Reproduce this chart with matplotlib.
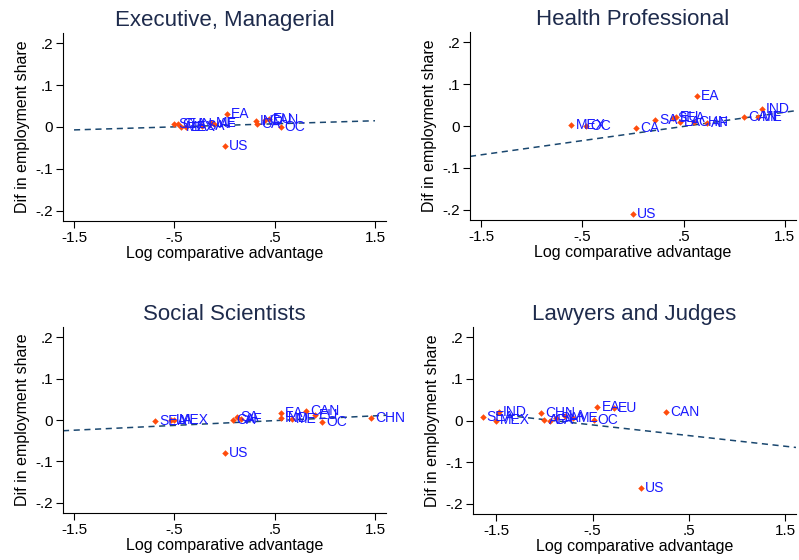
import numpy as np
import matplotlib.pyplot as plt

plt.rcParams['font.family'] = ['Liberation Sans', 'DejaVu Sans']

# Datos: (region, ventaja comparativa log, dif. participacion)
titles = ['Executive, Managerial', 'Health Professional',
          'Social Scientists', 'Lawyers and Judges']

exec_lab = ['SEA', 'CHN', 'MEX', 'LA', 'SA', 'ME', 'AF', 'EA', 'US',
            'IND', 'CA', 'CAN', 'EU', 'OC']
exec_x = [-0.50, -0.46, -0.43, -0.38, -0.22, -0.13, -0.10, 0.02, 0.00,
          0.31, 0.32, 0.40, 0.44, 0.56]
exec_y = [0.006, 0.006, 0.000, 0.000, 0.003, 0.010, 0.006, 0.031, -0.045,
          0.015, 0.007, 0.016, 0.018, 0.000]

health_lab = ['MEX', 'OC', 'CA', 'SA', 'SEA', 'EU', 'LA', 'CHN', 'AF',
              'EA', 'US', 'CAN', 'ME', 'IND']
health_x = [-0.61, -0.46, 0.03, 0.22, 0.40, 0.42, 0.46, 0.60, 0.73,
            0.63, 0.00, 1.10, 1.23, 1.27]
health_y = [0.002, 0.000, -0.004, 0.014, 0.018, 0.022, 0.010, 0.010, 0.007,
            0.072, -0.210, 0.022, 0.022, 0.040]

soc_lab = ['SEA', 'LA', 'MEX', 'CA', 'SA', 'AF', 'EA', 'IND', 'ME',
           'CAN', 'EU', 'OC', 'CHN', 'US']
soc_x = [-0.69, -0.53, -0.50, 0.08, 0.12, 0.16, 0.56, 0.56, 0.67,
         0.81, 0.90, 0.97, 1.46, 0.00]
soc_y = [-0.002, 0.000, 0.000, 0.000, 0.007, 0.003, 0.017, 0.005, 0.002,
         0.021, 0.012, -0.005, 0.005, -0.080]

law_lab = ['SEA', 'IND', 'MEX', 'CHN', 'AF', 'CA', 'SA', 'LA', 'ME',
           'OC', 'EA', 'EU', 'CAN', 'US']
law_x = [-1.64, -1.47, -1.50, -1.03, -1.00, -0.94, -0.88, -0.79, -0.70,
         -0.49, -0.45, -0.28, 0.26, 0.00]
law_y = [0.009, 0.021, 0.000, 0.018, 0.002, 0.000, 0.005, 0.010, 0.006,
         0.001, 0.032, 0.029, 0.020, -0.163]

# Recta ajustada (intercepto, pendiente, rango x)
fit_b0 = [0.004, -0.018, -0.0073, -0.0235]
fit_b1 = [0.0073, 0.034, 0.0116, -0.0257]
fit_x0 = [-1.5, -1.61, -1.61, -1.5]
fit_x1 = [1.5, 1.61, 1.61, 1.61]

xlims = [(-1.61, 1.61), (-1.61, 1.61), (-1.61, 1.61), (-1.74, 1.61)]

xticks = [-1.5, -0.5, 0.5, 1.5]
xtick_lab = ['-1.5', '-.5', '.5', '1.5']
yticks = [-0.2, -0.1, 0, 0.1, 0.2]
ytick_lab = ['-.2', '-.1', '0', '.1', '.2']

W, H = 799, 560
# posiciones de los ejes en pixeles: izq, der, arriba, abajo
boxes = [(63, 386, 33, 221), (470, 796, 32, 220),
         (63, 386, 327, 513), (473, 796, 327, 514)]

data = [(exec_lab, exec_x, exec_y), (health_lab, health_x, health_y),
        (soc_lab, soc_x, soc_y), (law_lab, law_x, law_y)]

fig = plt.figure(figsize=(W / 100, H / 100), dpi=100)
title_col = '#1e2b4c'
for i in range(4):
    l, r, t, b = boxes[i]
    ax = fig.add_axes([l / W, 1 - b / H, (r - l) / W, (b - t) / H])
    labs, xs, ys = data[i]
    xx = np.array([fit_x0[i], fit_x1[i]])
    ax.plot(xx, fit_b0[i] + fit_b1[i] * xx, color='#1a476f', lw=1.1,
            dashes=(4, 3), zorder=1)
    ax.scatter(xs, ys, s=11, color='#ff4c0c', marker='D', lw=0, zorder=2)
    for lab, x, y in zip(labs, xs, ys):
        ax.annotate(lab, (x, y), xytext=(3, 0), textcoords='offset points',
                    ha='left', va='center', fontsize=10, color='#1a1aff',
                    zorder=3, annotation_clip=False)
    ax.set_xlim(*xlims[i])
    ax.set_ylim(-0.225, 0.225)
    ax.set_xticks(xticks)
    ax.set_xticklabels(xtick_lab)
    ax.set_yticks(yticks)
    ax.set_yticklabels(ytick_lab)
    ax.tick_params(labelsize=11, length=5, width=0.8, pad=2)
    for s in ['top', 'right']:
        ax.spines[s].set_visible(False)
    ax.set_xlabel('Log comparative advantage', fontsize=11.5, labelpad=1)
    ax.set_ylabel('Dif in employment share', fontsize=11.5, labelpad=4)
    ax.set_title(titles[i], fontsize=16, color=title_col, pad=5)

plt.savefig('out.png', dpi=100)
